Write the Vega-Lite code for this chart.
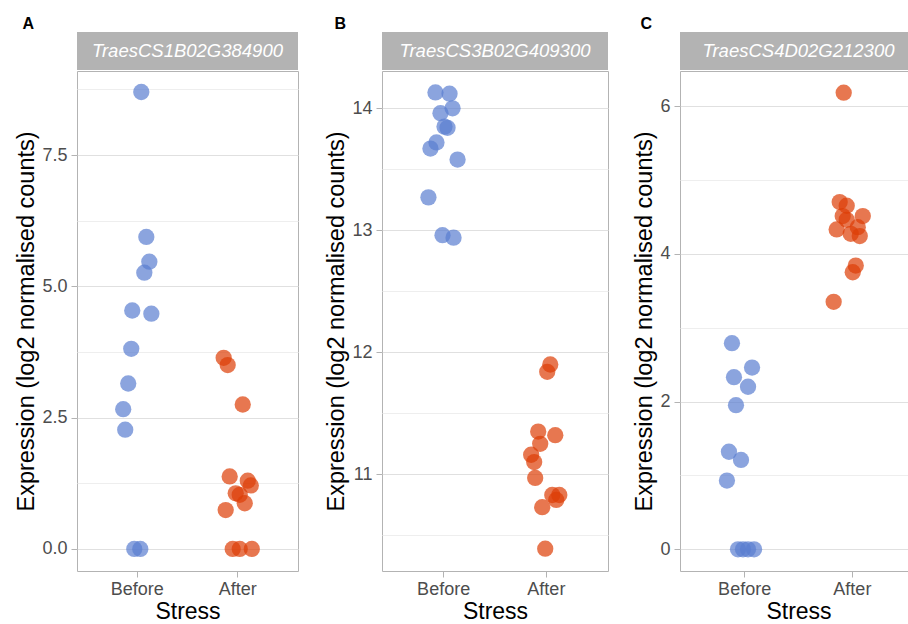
{
  "$schema": "https://vega.github.io/schema/vega-lite/v6.json",
  "background": "white",
  "padding": {"left": 14, "top": 16, "right": 0, "bottom": 0},
  "spacing": 25,
  "config": {
    "font": "Liberation Sans",
    "view": {"stroke": "#b3b3b3", "strokeWidth": 1},
    "title": {"anchor": "start", "fontSize": 16, "fontWeight": "bold", "color": "black"},
    "axis": {
      "domain": false,
      "tickColor": "#b3b3b3",
      "tickSize": 6,
      "tickWidth": 1,
      "labelFontSize": 18,
      "labelColor": "#4d4d4d",
      "titleFontSize": 23.5,
      "titleFontWeight": "normal",
      "titleColor": "black",
      "labelOverlap": false,
      "labelFlush": false
    },
    "axisX": {"grid": false, "labelAngle": 0, "labelPadding": 3, "titlePadding": 2, "titleFontSize": 23},
    "axisY": {"grid": true, "labelPadding": 4, "titlePadding": 3}
  },
  "datasets": {
    "expr": [
      {"gene": "TraesCS1B02G384900", "Stress": "Before", "expr": 8.70, "jitter": 0.04},
      {"gene": "TraesCS1B02G384900", "Stress": "Before", "expr": 5.94, "jitter": 0.09},
      {"gene": "TraesCS1B02G384900", "Stress": "Before", "expr": 5.47, "jitter": 0.12},
      {"gene": "TraesCS1B02G384900", "Stress": "Before", "expr": 5.26, "jitter": 0.07},
      {"gene": "TraesCS1B02G384900", "Stress": "Before", "expr": 4.54, "jitter": -0.05},
      {"gene": "TraesCS1B02G384900", "Stress": "Before", "expr": 4.48, "jitter": 0.14},
      {"gene": "TraesCS1B02G384900", "Stress": "Before", "expr": 3.81, "jitter": -0.06},
      {"gene": "TraesCS1B02G384900", "Stress": "Before", "expr": 3.15, "jitter": -0.09},
      {"gene": "TraesCS1B02G384900", "Stress": "Before", "expr": 2.66, "jitter": -0.14},
      {"gene": "TraesCS1B02G384900", "Stress": "Before", "expr": 2.27, "jitter": -0.12},
      {"gene": "TraesCS1B02G384900", "Stress": "Before", "expr": 0, "jitter": -0.03},
      {"gene": "TraesCS1B02G384900", "Stress": "Before", "expr": 0, "jitter": 0.03},
      {"gene": "TraesCS1B02G384900", "Stress": "After", "expr": 3.64, "jitter": -0.14},
      {"gene": "TraesCS1B02G384900", "Stress": "After", "expr": 3.50, "jitter": -0.10},
      {"gene": "TraesCS1B02G384900", "Stress": "After", "expr": 2.75, "jitter": 0.05},
      {"gene": "TraesCS1B02G384900", "Stress": "After", "expr": 1.38, "jitter": -0.08},
      {"gene": "TraesCS1B02G384900", "Stress": "After", "expr": 1.30, "jitter": 0.10},
      {"gene": "TraesCS1B02G384900", "Stress": "After", "expr": 1.21, "jitter": 0.13},
      {"gene": "TraesCS1B02G384900", "Stress": "After", "expr": 1.06, "jitter": -0.02},
      {"gene": "TraesCS1B02G384900", "Stress": "After", "expr": 1.03, "jitter": 0.02},
      {"gene": "TraesCS1B02G384900", "Stress": "After", "expr": 0.87, "jitter": 0.07},
      {"gene": "TraesCS1B02G384900", "Stress": "After", "expr": 0.74, "jitter": -0.12},
      {"gene": "TraesCS1B02G384900", "Stress": "After", "expr": 0, "jitter": -0.05},
      {"gene": "TraesCS1B02G384900", "Stress": "After", "expr": 0, "jitter": 0.02},
      {"gene": "TraesCS1B02G384900", "Stress": "After", "expr": 0, "jitter": 0.14},

      {"gene": "TraesCS3B02G409300", "Stress": "Before", "expr": 14.13, "jitter": -0.07},
      {"gene": "TraesCS3B02G409300", "Stress": "Before", "expr": 14.12, "jitter": 0.07},
      {"gene": "TraesCS3B02G409300", "Stress": "Before", "expr": 14.00, "jitter": 0.10},
      {"gene": "TraesCS3B02G409300", "Stress": "Before", "expr": 13.96, "jitter": -0.02},
      {"gene": "TraesCS3B02G409300", "Stress": "Before", "expr": 13.85, "jitter": 0.02},
      {"gene": "TraesCS3B02G409300", "Stress": "Before", "expr": 13.84, "jitter": 0.05},
      {"gene": "TraesCS3B02G409300", "Stress": "Before", "expr": 13.72, "jitter": -0.06},
      {"gene": "TraesCS3B02G409300", "Stress": "Before", "expr": 13.67, "jitter": -0.12},
      {"gene": "TraesCS3B02G409300", "Stress": "Before", "expr": 13.58, "jitter": 0.15},
      {"gene": "TraesCS3B02G409300", "Stress": "Before", "expr": 13.27, "jitter": -0.14},
      {"gene": "TraesCS3B02G409300", "Stress": "Before", "expr": 12.96, "jitter": 0.0},
      {"gene": "TraesCS3B02G409300", "Stress": "Before", "expr": 12.94, "jitter": 0.11},
      {"gene": "TraesCS3B02G409300", "Stress": "After", "expr": 11.90, "jitter": 0.05},
      {"gene": "TraesCS3B02G409300", "Stress": "After", "expr": 11.84, "jitter": 0.02},
      {"gene": "TraesCS3B02G409300", "Stress": "After", "expr": 11.35, "jitter": -0.07},
      {"gene": "TraesCS3B02G409300", "Stress": "After", "expr": 11.32, "jitter": 0.10},
      {"gene": "TraesCS3B02G409300", "Stress": "After", "expr": 11.25, "jitter": -0.05},
      {"gene": "TraesCS3B02G409300", "Stress": "After", "expr": 11.16, "jitter": -0.14},
      {"gene": "TraesCS3B02G409300", "Stress": "After", "expr": 11.10, "jitter": -0.11},
      {"gene": "TraesCS3B02G409300", "Stress": "After", "expr": 10.97, "jitter": -0.10},
      {"gene": "TraesCS3B02G409300", "Stress": "After", "expr": 10.83, "jitter": 0.07},
      {"gene": "TraesCS3B02G409300", "Stress": "After", "expr": 10.83, "jitter": 0.14},
      {"gene": "TraesCS3B02G409300", "Stress": "After", "expr": 10.79, "jitter": 0.11},
      {"gene": "TraesCS3B02G409300", "Stress": "After", "expr": 10.73, "jitter": -0.03},
      {"gene": "TraesCS3B02G409300", "Stress": "After", "expr": 10.39, "jitter": 0.0},

      {"gene": "TraesCS4D02G212300", "Stress": "Before", "expr": 2.79, "jitter": -0.09},
      {"gene": "TraesCS4D02G212300", "Stress": "Before", "expr": 2.46, "jitter": 0.11},
      {"gene": "TraesCS4D02G212300", "Stress": "Before", "expr": 2.33, "jitter": -0.07},
      {"gene": "TraesCS4D02G212300", "Stress": "Before", "expr": 2.20, "jitter": 0.07},
      {"gene": "TraesCS4D02G212300", "Stress": "Before", "expr": 1.95, "jitter": -0.05},
      {"gene": "TraesCS4D02G212300", "Stress": "Before", "expr": 1.32, "jitter": -0.12},
      {"gene": "TraesCS4D02G212300", "Stress": "Before", "expr": 1.21, "jitter": 0.0},
      {"gene": "TraesCS4D02G212300", "Stress": "Before", "expr": 0.93, "jitter": -0.14},
      {"gene": "TraesCS4D02G212300", "Stress": "Before", "expr": 0, "jitter": -0.03},
      {"gene": "TraesCS4D02G212300", "Stress": "Before", "expr": 0, "jitter": 0.02},
      {"gene": "TraesCS4D02G212300", "Stress": "Before", "expr": 0, "jitter": 0.07},
      {"gene": "TraesCS4D02G212300", "Stress": "Before", "expr": 0, "jitter": 0.13},
      {"gene": "TraesCS4D02G212300", "Stress": "After", "expr": 6.18, "jitter": -0.05},
      {"gene": "TraesCS4D02G212300", "Stress": "After", "expr": 4.70, "jitter": -0.09},
      {"gene": "TraesCS4D02G212300", "Stress": "After", "expr": 4.65, "jitter": -0.02},
      {"gene": "TraesCS4D02G212300", "Stress": "After", "expr": 4.51, "jitter": 0.14},
      {"gene": "TraesCS4D02G212300", "Stress": "After", "expr": 4.51, "jitter": -0.06},
      {"gene": "TraesCS4D02G212300", "Stress": "After", "expr": 4.46, "jitter": -0.02},
      {"gene": "TraesCS4D02G212300", "Stress": "After", "expr": 4.36, "jitter": 0.09},
      {"gene": "TraesCS4D02G212300", "Stress": "After", "expr": 4.33, "jitter": -0.12},
      {"gene": "TraesCS4D02G212300", "Stress": "After", "expr": 4.27, "jitter": 0.02},
      {"gene": "TraesCS4D02G212300", "Stress": "After", "expr": 4.24, "jitter": 0.11},
      {"gene": "TraesCS4D02G212300", "Stress": "After", "expr": 3.84, "jitter": 0.07},
      {"gene": "TraesCS4D02G212300", "Stress": "After", "expr": 3.75, "jitter": 0.04},
      {"gene": "TraesCS4D02G212300", "Stress": "After", "expr": 3.35, "jitter": -0.15}
    ]
  },
  "hconcat": [
    {
      "title": {"text": "A", "dx": 8, "offset": 0},
      "spacing": 0,
      "vconcat": [
        {
          "width": 221, "height": 38,
          "data": {"values": [{"gene": "TraesCS1B02G384900"}]},
          "view": {"fill": "#b3b3b3", "stroke": null},
          "mark": {"type": "text", "color": "white", "fontStyle": "italic", "fontSize": 18.5},
          "encoding": {"text": {"field": "gene"}}
        },
        {
          "width": 221, "height": 500,
          "data": {"name": "expr"},
          "transform": [{"filter": "datum.gene == 'TraesCS1B02G384900'"}],
          "mark": {"type": "circle", "size": 265, "opacity": 0.7},
          "encoding": {
            "x": {"field": "Stress", "type": "nominal", "sort": ["Before", "After"], "scale": {"type": "band", "paddingInner": 0, "paddingOuter": 0.1}, "axis": {"title": "Stress"}},
            "xOffset": {"field": "jitter", "type": "quantitative", "scale": {"domain": [-0.5, 0.5], "nice": false, "zero": false}},
            "y": {"field": "expr", "type": "quantitative", "scale": {"domain": [-0.42, 9.10], "nice": false, "zero": false},
              "axis": {"title": "Expression (log2 normalised counts)", "values": [0, 1.25, 2.5, 3.75, 5, 6.25, 7.5, 8.75],
                "labelExpr": "datum.value % 2.5 == 0 ? format(datum.value, '.1f') : ''",
                "tickOpacity": {"condition": {"test": "datum.value % 2.5 != 0", "value": 0}, "value": 1},
                "gridColor": {"condition": {"test": "datum.value % 2.5 != 0", "value": "#eeeeee"}, "value": "#e0e0e0"}}},
            "color": {"field": "Stress", "type": "nominal", "scale": {"domain": ["Before", "After"], "range": ["#5a7dd0", "#dd3d05"]}, "legend": null}
          }
        }
      ]
    },
    {
      "spacing": 23,
      "hconcat": [
        {
          "title": {"text": "B", "dx": 10, "offset": 0},
          "spacing": 0,
          "vconcat": [
            {
              "width": 226, "height": 38,
              "data": {"values": [{"gene": "TraesCS3B02G409300"}]},
              "view": {"fill": "#b3b3b3", "stroke": null},
              "mark": {"type": "text", "color": "white", "fontStyle": "italic", "fontSize": 18.5},
              "encoding": {"text": {"field": "gene"}}
            },
            {
              "width": 226, "height": 500,
              "data": {"name": "expr"},
              "transform": [{"filter": "datum.gene == 'TraesCS3B02G409300'"}],
              "mark": {"type": "circle", "size": 265, "opacity": 0.7},
              "encoding": {
                "x": {"field": "Stress", "type": "nominal", "sort": ["Before", "After"], "scale": {"type": "band", "paddingInner": 0, "paddingOuter": 0.1}, "axis": {"title": "Stress"}},
                "xOffset": {"field": "jitter", "type": "quantitative", "scale": {"domain": [-0.5, 0.5], "nice": false, "zero": false}},
                "y": {"field": "expr", "type": "quantitative", "scale": {"domain": [10.207, 14.306], "nice": false, "zero": false},
                  "axis": {"title": "Expression (log2 normalised counts)", "values": [10.5, 11, 11.5, 12, 12.5, 13, 13.5, 14],
                    "labelExpr": "datum.value % 1 == 0 ? format(datum.value, 'd') : ''",
                    "tickOpacity": {"condition": {"test": "datum.value % 1 != 0", "value": 0}, "value": 1},
                    "gridColor": {"condition": {"test": "datum.value % 1 != 0", "value": "#eeeeee"}, "value": "#e0e0e0"}}},
                "color": {"field": "Stress", "type": "nominal", "scale": {"domain": ["Before", "After"], "range": ["#5a7dd0", "#dd3d05"]}, "legend": null}
              }
            }
          ]
        },
        {
          "title": {"text": "C", "dx": 8, "offset": 0},
          "spacing": 0,
          "vconcat": [
            {
              "width": 237, "height": 38,
              "data": {"values": [{"gene": "TraesCS4D02G212300"}]},
              "view": {"fill": "#b3b3b3", "stroke": null},
              "mark": {"type": "text", "color": "white", "fontStyle": "italic", "fontSize": 18.5},
              "encoding": {"text": {"field": "gene"}}
            },
            {
              "width": 237, "height": 500,
              "data": {"name": "expr"},
              "transform": [{"filter": "datum.gene == 'TraesCS4D02G212300'"}],
              "mark": {"type": "circle", "size": 265, "opacity": 0.7},
              "encoding": {
                "x": {"field": "Stress", "type": "nominal", "sort": ["Before", "After"], "scale": {"type": "band", "paddingInner": 0, "paddingOuter": 0.1}, "axis": {"title": "Stress"}},
                "xOffset": {"field": "jitter", "type": "quantitative", "scale": {"domain": [-0.5, 0.5], "nice": false, "zero": false}},
                "y": {"field": "expr", "type": "quantitative", "scale": {"domain": [-0.294, 6.474], "nice": false, "zero": false},
                  "axis": {"title": "Expression (log2 normalised counts)", "values": [0, 1, 2, 3, 4, 5, 6],
                    "labelExpr": "datum.value % 2 == 0 ? format(datum.value, 'd') : ''",
                    "tickOpacity": {"condition": {"test": "datum.value % 2 != 0", "value": 0}, "value": 1},
                    "gridColor": {"condition": {"test": "datum.value % 2 != 0", "value": "#eeeeee"}, "value": "#e0e0e0"}}},
                "color": {"field": "Stress", "type": "nominal", "scale": {"domain": ["Before", "After"], "range": ["#5a7dd0", "#dd3d05"]}, "legend": null}
              }
            }
          ]
        }
      ]
    }
  ]
}
